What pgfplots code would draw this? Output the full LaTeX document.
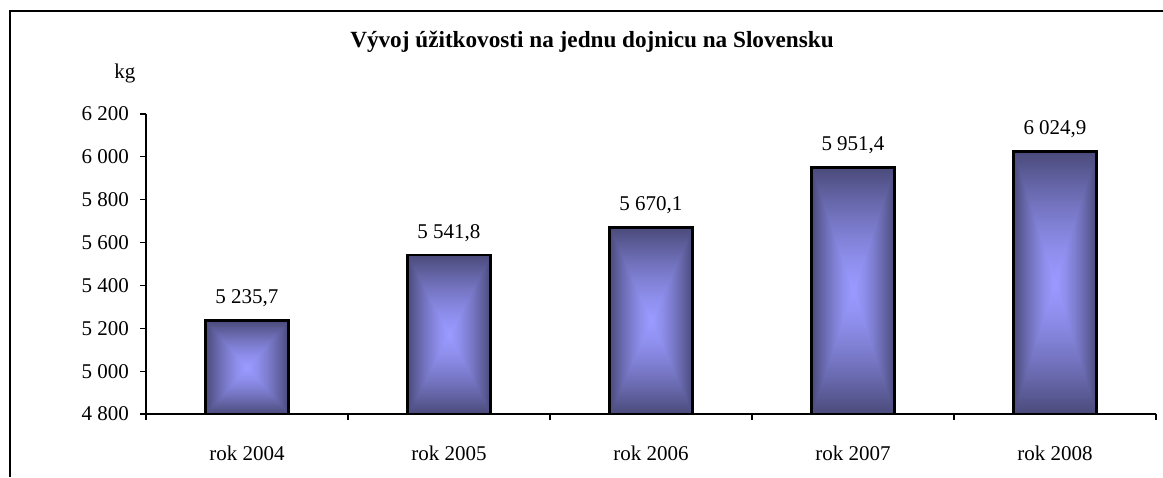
\documentclass[border=0pt]{standalone}
\usepackage{fontspec}
\setmainfont{Liberation Serif}
\usepackage{pgfplots}
\pgfplotsset{compat=1.18}

\pgfdeclarefunctionalshading{boxshade}{\pgfpoint{0bp}{0bp}}{\pgfpoint{100bp}{100bp}}{}{
 50 sub abs 25 div exch 50 sub abs 25 div
 2 copy lt {exch} if pop
 dup 1 gt {pop 1} if
 1.4 exp
 dup 0.31 mul 0.6 exch sub
 exch
 dup 0.31 mul 0.6 exch sub
 exch
 0.52 mul 1 exch sub
}

\pgfplotsset{shbar/.style={ybar, bar shift=0pt, bar width=41.5pt, draw=black, line width=1.3pt, shade, shading=boxshade}}

\begin{document}
\begin{tikzpicture}
\fontsize{10.5}{12}\selectfont
\useasboundingbox (-73pt,-31.5pt) rectangle (508.5pt,207pt);
\begin{axis}[
  at={(0,0)}, anchor=south west,
  scale only axis, width=505pt, height=150pt,
  xmin=-0.5, xmax=4.5, ymin=4800, ymax=6200,
  axis x line*=bottom, axis y line*=left,
  axis line style={-, line width=0.6pt},
  tick align=outside, major tick length=3pt,
  tick style={line width=0.6pt, black},
  xtick={-0.5,0.5,1.5,2.5,3.5,4.5},
  xticklabels={},
  extra x ticks={0,1,2,3,4},
  extra x tick labels={rok 2004,rok 2005,rok 2006,rok 2007,rok 2008},
  extra x tick style={tick style={draw=none}, tick label style={anchor=base, yshift=-20pt, font=\fontsize{10.5}{12}\selectfont}},
  ytick={4800,5000,...,6200},
  scaled y ticks=false,
  yticklabel style={anchor=east, xshift=-1.8pt, font=\fontsize{10.5}{12}\selectfont,
    /pgf/number format/.cd, 1000 sep={\ }, assume math mode=true},
  nodes near coords={\pgfmathprintnumber[fixed,fixed zerofill,precision=1,use comma,1000 sep={\ },assume math mode=true]{\pgfplotspointmeta}},
  nodes near coords style={anchor=base, yshift=8.5pt, font=\fontsize{10.5}{12}\selectfont},
]
\addplot[shbar] coordinates {(0,5235.7)};
\addplot[shbar] coordinates {(1,5541.8)};
\addplot[shbar] coordinates {(2,5670.1)};
\addplot[shbar] coordinates {(3,5951.4)};
\addplot[shbar] coordinates {(4,6024.9)};
\end{axis}
\node[anchor=base] at (-10.5pt,167.5pt) {kg};
\node[anchor=base, font=\bfseries\fontsize{11.6}{14}\selectfont] at (223pt,183pt) {Vývoj úžitkovosti na jednu dojnicu na Slovensku};
\draw[line width=0.6pt] (-68pt,-31.5pt) -- (-68pt,201.5pt) -- (508.5pt,201.5pt);
\end{tikzpicture}
\end{document}
